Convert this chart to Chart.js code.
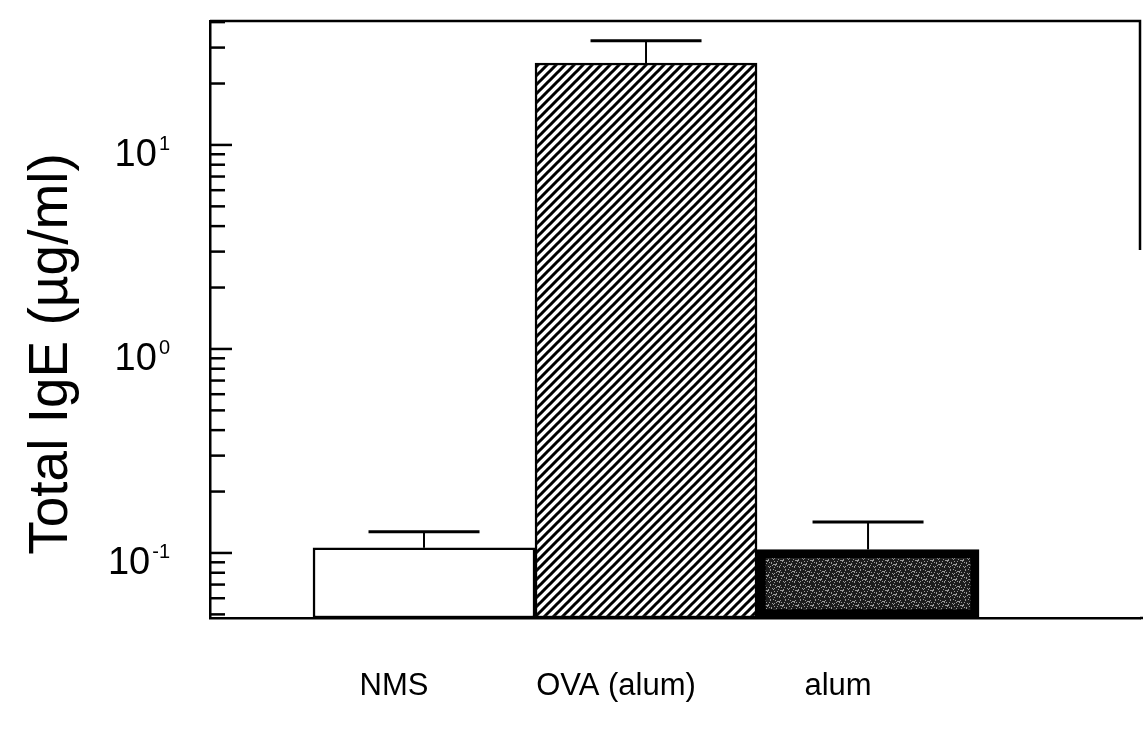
<!DOCTYPE html>
<html>
<head>
<title>Total IgE</title>
<script src="https://cdn.jsdelivr.net/npm/chart.js@4/dist/chart.umd.min.js"></script>
<style>
  html, body { margin: 0; padding: 0; background: #fff; }
  #wrap { width: 1143px; height: 732px; position: relative; }
</style>
</head>
<body>
<div id="wrap"><canvas id="chart"></canvas></div>
<script>
const groups = ['NMS', 'OVA (alum)', 'alum']
const means = [0.106, 25.2, 0.104]
const upperErr = [0.127, 32.4, 0.142]
const labelledTicks = [0.1, 1, 10]
const yRange = [0.048, 40.5]

const FONT = "'Liberation Sans', Arial, Helvetica, sans-serif"
const canvas = document.getElementById('chart')
const ctx0 = canvas.getContext('2d')

// diagonal hatch for the OVA bar
function hatch() {
    const c = document.createElement('canvas')
    c.width = c.height = 9
    const g = c.getContext('2d')
    g.fillStyle = '#fff'
    g.fillRect(0, 0, 9, 9)
    g.strokeStyle = '#000'
    g.lineWidth = 3
    g.beginPath()
    g.moveTo(-2, 11); g.lineTo(11, -2)
    g.moveTo(-2, 2); g.lineTo(2, -2)
    g.moveTo(7, 11); g.lineTo(11, 7)
    g.stroke()
    return ctx0.createPattern(c, 'repeat')
}

// dark speckled fill for the alum bar
function speckle() {
    const c = document.createElement('canvas')
    c.width = c.height = 15
    const g = c.getContext('2d')
    g.fillStyle = '#1c1c1c'
    g.fillRect(0, 0, 15, 15)
    g.fillStyle = '#9a9a9a'
    for (let y = 0; y < 15; y++)
        for (let x = 0; x < 15; x++)
            if ((x * 4 + y * 7 + ((x * y) % 4)) % 5 === 0) g.fillRect(x, y, 1, 1)
    return ctx0.createPattern(c, 'repeat')
}

// 1..9 x 10^n within range
function logTicks([lo, hi]) {
    const out = []
    for (let e = Math.floor(Math.log10(lo)); e <= Math.ceil(Math.log10(hi)); e++)
        for (let m = 1; m < 10; m++) {
            const v = m * Math.pow(10, e)
            if (v >= lo && v <= hi) out.push(v)
        }
    return out
}

const decorations = {
    id: 'decorations',
    afterDraw(chart) {
        const { ctx, chartArea: a, scales: { y } } = chart
        ctx.save()
        ctx.strokeStyle = '#000'
        ctx.fillStyle = '#000'

        // error bars (upper only)
        chart.getDatasetMeta(0).data.forEach((bar, i) => {
            const top = y.getPixelForValue(upperErr[i])
            const half = bar.width / 4
            ctx.lineWidth = 2
            ctx.beginPath()
            ctx.moveTo(bar.x, bar.y)
            ctx.lineTo(bar.x, top)
            ctx.stroke()
            ctx.lineWidth = 3
            ctx.beginPath()
            ctx.moveTo(bar.x - half, top)
            ctx.lineTo(bar.x + half, top)
            ctx.stroke()
        })

        // inward tick marks
        ctx.lineWidth = 2.5
        y.ticks.forEach(t => {
            const py = y.getPixelForValue(t.value)
            const e = Math.log10(t.value)
            const major = Math.abs(e - Math.round(e)) < 1e-6
            ctx.beginPath()
            ctx.moveTo(a.left, py)
            ctx.lineTo(a.left + (major ? 22 : 15), py)
            ctx.stroke()
        })

        // tick labels 10^n
        labelledTicks.forEach(v => {
            const py = y.getPixelForValue(v)
            const exp = String(Math.round(Math.log10(v)))
            ctx.font = '20px ' + FONT
            const ew = ctx.measureText(exp).width
            const right = a.left - 40
            ctx.textAlign = 'right'
            ctx.textBaseline = 'alphabetic'
            ctx.fillText(exp, right, py + 5)
            ctx.font = '38px ' + FONT
            ctx.fillText('10', right - ew - 2, py + 21)
        })

        // frame: top edge, part of right edge, axis to page edge
        ctx.lineWidth = 2.5
        ctx.beginPath()
        ctx.moveTo(a.left, a.top)
        ctx.lineTo(a.right, a.top)
        ctx.lineTo(a.right, 250)
        ctx.moveTo(a.right, a.bottom)
        ctx.lineTo(chart.width, a.bottom)
        ctx.stroke()

        // y title
        ctx.translate(52, 354)
        ctx.rotate(-Math.PI / 2)
        ctx.font = '55px ' + FONT
        ctx.textAlign = 'center'
        ctx.textBaseline = 'middle'
        ctx.fillText('Total IgE (\u00b5g/ml)', 0, 0)
        ctx.restore()
    },
}

new Chart(canvas, {
    type: 'bar',
    data: {
        datasets: [
            {
                data: groups.map((g, i) => ({ x: i, y: means[i] })),
                backgroundColor: ['#fff', hatch(), speckle()],
                borderColor: '#000',
                borderWidth: [2.5, 2.5, 9],
                borderSkipped: false,
                categoryPercentage: 1,
                barPercentage: 1,
            },
        ],
    },
    options: {
        responsive: true,
        maintainAspectRatio: false,
        animation: false,
        devicePixelRatio: 1,
        layout: { padding: { top: 21, right: 3, left: 0, bottom: 0 } },
        plugins: { legend: { display: false }, tooltip: { enabled: false } },
        scales: {
            x: {
                type: 'linear',
                offset: false,
                min: -0.964,
                max: 3.225,
                afterBuildTicks: s => { s.ticks = groups.map((g, i) => ({ value: i })) },
                afterFit: s => { s.height = 114 },
                ticks: {
                    callback: v => groups[v],
                    font: { family: FONT, size: 31 },
                    color: '#000',
                    padding: 50,
                    labelOffset: -30,
                    maxRotation: 0,
                    autoSkip: false,
                },
                grid: { display: false, drawTicks: false, offset: false },
                border: { display: true, color: '#000', width: 2.5 },
            },
            y: {
                type: 'logarithmic',
                min: yRange[0],
                max: yRange[1],
                afterBuildTicks: s => { s.ticks = logTicks(yRange).map(v => ({ value: v })) },
                afterFit: s => { s.width = 210 },
                ticks: { display: false },
                grid: { display: false },
                border: { display: true, color: '#000', width: 2.5 },
            },
        },
    },
    plugins: [decorations],
})
</script>
</body>
</html>
